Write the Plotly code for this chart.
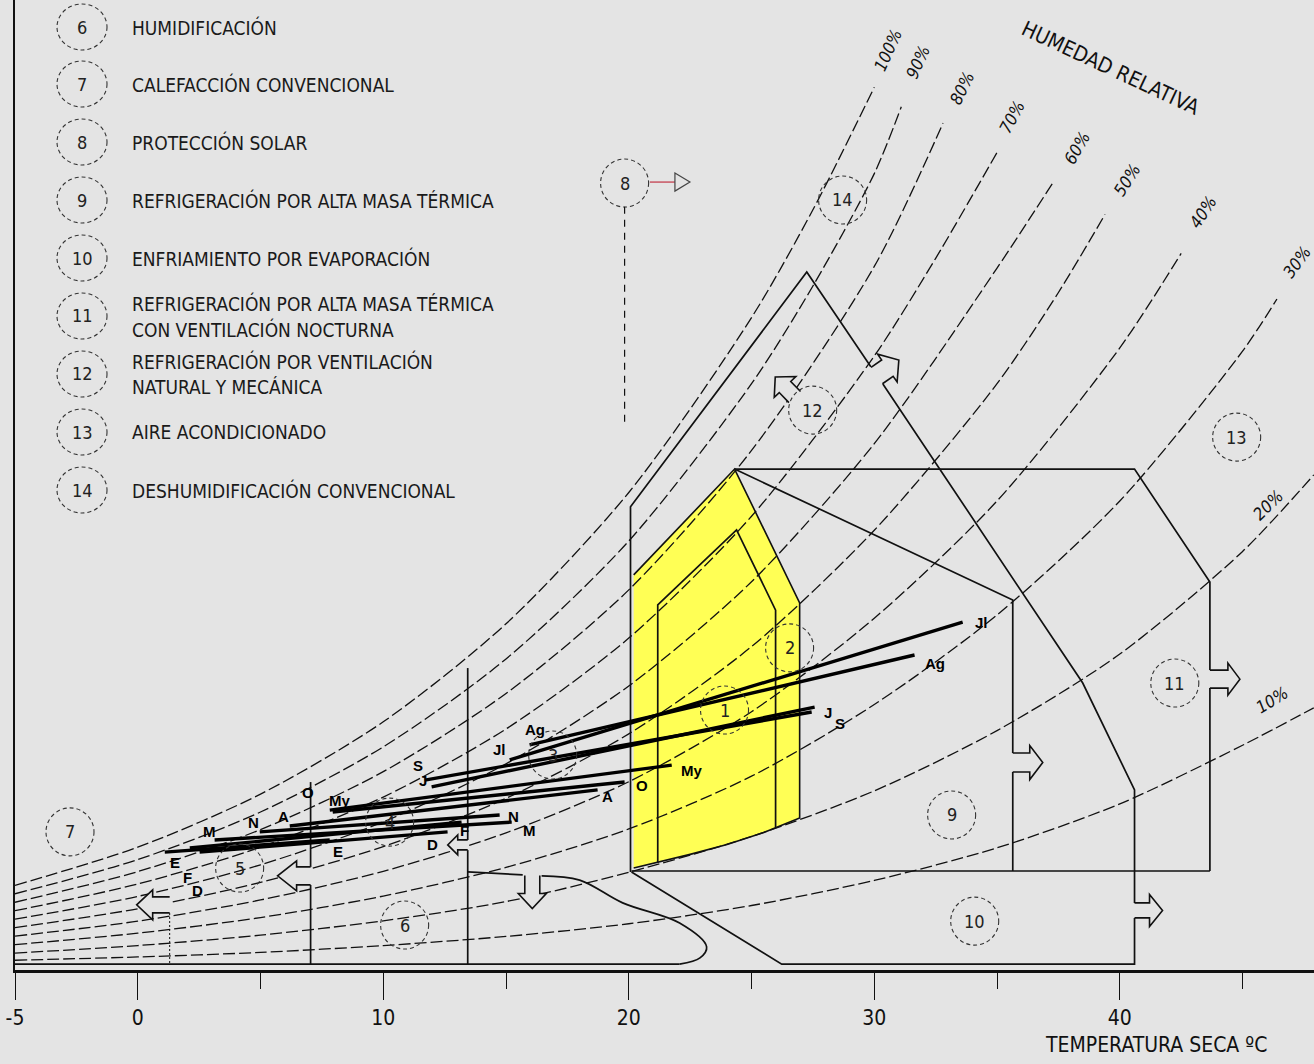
import math
import plotly.graph_objects as go

# ---------------------------------------------------------------------------
# Relative-humidity curves: dry-bulb temperature (°C) vs humidity ratio (g/kg)
# ---------------------------------------------------------------------------
rh100_t = [-5, 0, 5, 10, 15, 20, 25, 27.5, 30.0]
rh100_w = [2.60, 3.77, 5.40, 7.62, 10.63, 14.66, 20.03, 23.34, 27.10]
rh90_t = [-5, 0, 5, 10, 15, 20, 25, 27.5, 30, 31.1]
rh90_w = [2.34, 3.39, 4.85, 6.85, 9.55, 13.17, 18.00, 21.00, 24.45, 26.50]
rh80_t = [-5, 0, 5, 10, 15, 20, 25, 30, 32.8]
rh80_w = [2.08, 3.02, 4.31, 6.09, 8.49, 11.67, 15.95, 21.60, 26.00]
rh70_t = [-5, 0, 5, 10, 15, 20, 25, 30, 32.5, 35.0]
rh70_w = [1.82, 2.64, 3.77, 5.31, 7.40, 10.19, 13.93, 18.85, 21.85, 25.10]
rh60_t = [-5, 0, 5, 10, 15, 20, 25, 30, 35, 37.3]
rh60_w = [1.56, 2.26, 3.23, 4.55, 6.33, 8.72, 11.92, 16.16, 21.55, 24.20]
rh50_t = [-5, 0, 5, 10, 15, 20, 25, 30, 35, 37.5, 39.4]
rh50_w = [1.30, 1.88, 2.69, 3.79, 5.27, 7.25, 9.93, 13.50, 18.00, 20.80, 23.20]
rh40_t = [-5, 0, 5, 10, 15, 20, 25, 30, 35, 40, 42.5]
rh40_w = [1.04, 1.50, 2.15, 3.03, 4.21, 5.78, 7.93, 10.80, 14.40, 19.10, 22.00]
rh30_t = [-5, 0, 5, 10, 15, 20, 25, 30, 35, 40, 45, 46.4]
rh30_w = [0.78, 1.13, 1.61, 2.27, 3.15, 4.33, 5.95, 8.15, 10.90, 14.40, 19.00, 20.60]
rh20_t = [-5, 0, 5, 10, 15, 20, 25, 30, 35, 40, 45, 47.9]
rh20_w = [0.52, 0.75, 1.07, 1.51, 2.10, 3.00, 4.10, 5.50, 7.35, 9.70, 12.85, 15.20]
rh10_t = [-5, 0, 5, 10, 15, 20, 25, 30, 35, 40, 45, 47.9]
rh10_w = [0.30, 0.40, 0.54, 0.75, 1.03, 1.42, 1.98, 2.75, 3.75, 5.10, 6.90, 8.05]

rh_labels = ["100%", "90%", "80%", "70%", "60%", "50%", "40%", "30%", "20%", "10%"]

# ---------------------------------------------------------------------------
# Monthly climate lines (E..D): from min temperature to max temperature
# ---------------------------------------------------------------------------
months = ["E", "F", "M", "A", "My", "J", "Jl", "Ag", "S", "O", "N", "D"]
t_min = [1.10, 2.12, 3.13, 6.19, 7.82, 11.97, 15.15, 15.96, 11.69, 7.94, 4.97, 2.52]
t_max = [7.82, 13.19, 15.23, 18.73, 21.75, 27.57, 33.60, 31.64, 27.45, 19.83, 14.74, 12.62]
w_at_tmin = [3.62, 3.75, 3.99, 4.42, 4.91, 5.62, 6.45, 6.91, 5.83, 4.85, 4.24, 3.62]
w_at_tmax = [3.99, 4.54, 4.54, 5.53, 6.29, 8.07, 10.68, 9.67, 7.92, 5.77, 4.76, 4.24]

# ---------------------------------------------------------------------------
# Bioclimatic zones (°C, g/kg)
# ---------------------------------------------------------------------------
comfort_t = [20.2, 24.31, 26.96, 26.96, 25.5, 24.0, 22.5, 21.2, 20.2]
comfort_w = [12.13, 15.38, 11.27, 4.67, 4.22, 3.85, 3.55, 3.30, 3.13]
zone1_t = [21.18, 21.18, 24.39, 25.98, 25.98]
zone1_w = [3.29, 11.21, 13.51, 11.05, 4.39]

zone12_t = [20.07, 20.07, 27.25, 29.86]
zone12_w = [3.01, 14.22, 21.43, 18.52]
zone12b_t = [30.35, 38.49, 40.60, 40.60]
zone12b_w = [17.99, 8.81, 5.53, 2.06]
zone10_t = [40.60, 40.60, 26.23, 20.11]
zone10_w = [1.60, 0.18, 0.18, 3.01]
zone9_t = [24.31, 35.64, 35.64]
zone9_w = [15.38, 11.36, 6.66]
zone9b_t = [35.64, 35.64]
zone9b_w = [6.08, 3.04]
zone11_t = [24.31, 40.60, 43.67, 43.67]
zone11_w = [15.38, 15.38, 11.91, 9.21]
zone11b_t = [43.67, 43.67]
zone11b_w = [8.66, 3.04]
base_t = [20.11, 43.67]
base_w = [3.04, 3.04]

heat7_t = [7.04, 7.04]
heat7_w = [5.77, 3.16]
heat7b_t = [7.04, 7.04]
heat7b_w = [2.61, 0.18]
heat13_t = [13.44, 13.44]
heat13_w = [9.27, 3.99]
heat13b_t = [13.44, 13.44]
heat13b_w = [3.68, 0.18]

humid_top_t = [13.44, 15.68]
humid_top_w = [3.01, 2.92]
humid_curve_t = [16.45, 18.0, 19.75, 22.07, 23.17, 22.9, 22.07]
humid_curve_w = [2.89, 2.76, 2.06, 1.44, 0.71, 0.37, 0.18]
humid_base_t = [-5, 22.07]
humid_base_w = [0.18, 0.18]
solar_t = [1.30, 1.30]
solar_w = [1.75, 0.18]

# zone markers: number, temperature, humidity ratio
zone_ids = ["7", "5", "4", "6", "3", "1", "2", "9", "10", "11", "12", "13", "14", "8"]
zone_t = [-2.76, 4.15, 10.26, 10.87, 16.90, 23.90, 26.55, 33.15, 34.09, 42.24, 27.49, 44.76, 28.71, 19.83]
zone_w = [4.24, 3.13, 4.54, 1.38, 6.60, 7.98, 9.89, 4.76, 1.50, 8.81, 17.19, 16.36, 23.64, 24.16]

legend_ids = ["6", "7", "8", "9", "10", "11", "12", "13", "14"]
legend_lines = [
    ["HUMIDIFICACIÓN"],
    ["CALEFACCIÓN CONVENCIONAL"],
    ["PROTECCIÓN SOLAR"],
    ["REFRIGERACIÓN POR ALTA MASA TÉRMICA"],
    ["ENFRIAMIENTO POR EVAPORACIÓN"],
    ["REFRIGERACIÓN POR ALTA MASA TÉRMICA", "CON VENTILACIÓN NOCTURNA"],
    ["REFRIGERACIÓN POR VENTILACIÓN", "NATURAL Y MECÁNICA"],
    ["AIRE ACONDICIONADO"],
    ["DESHUMIDIFICACIÓN CONVENCIONAL"],
]

tick_vals = [-5, 0, 10, 20, 30, 40]
tick_text = ["-5", "0", "10", "20", "30", "40"]
minor_vals = [5, 15, 25, 35, 45]

# ---------------------------------------------------------------------------
# Layout constants
# ---------------------------------------------------------------------------
W, H = 1314, 1064
ML, MB = 15, 94
PW, PH = W - ML, H - MB
BG = "#e4e4e4"
YELLOW = "#ffff55"
INK = "#111111"
FONT = "DejaVu Sans Condensed, Liberation Sans Narrow, Arial Narrow, sans-serif"
BOLD = "Liberation Sans, Arial, sans-serif"


def paper_x(px):
    return (px - ML) / PW


def paper_y(py):
    return (PH - py) / PH


def arrow_path(theta, s, h, l1, l2):
    """Open outline of a block arrow (pixels, y up) pointing along theta."""
    pts = [(0, s), (l1, s), (l1, h), (l1 + l2, 0), (l1, -h), (l1, -s), (0, -s)]
    c, sn = math.cos(math.radians(theta)), math.sin(math.radians(theta))
    out = [(u * c - v * sn, u * sn + v * c) for u, v in pts]
    return "M " + " L ".join(f"{x:.1f},{y:.1f}" for x, y in out)


fig = go.Figure()

# comfort zone (yellow) drawn first so the grid of curves sits on top
fig.add_trace(go.Scatter(x=comfort_t, y=comfort_w, mode="lines", fill="toself",
                         fillcolor=YELLOW, line=dict(color=INK, width=1.6),
                         hoverinfo="skip", showlegend=False))

rh_series = [(rh100_t, rh100_w), (rh90_t, rh90_w), (rh80_t, rh80_w), (rh70_t, rh70_w),
             (rh60_t, rh60_w), (rh50_t, rh50_w), (rh40_t, rh40_w), (rh30_t, rh30_w),
             (rh20_t, rh20_w), (rh10_t, rh10_w)]
for tt, ww in rh_series:
    fig.add_trace(go.Scatter(x=tt, y=ww, mode="lines",
                             line=dict(color=INK, width=1.3, dash="12px,4px",
                                       shape="spline", smoothing=0.8),
                             hoverinfo="skip", showlegend=False))

solid = [(zone1_t, zone1_w), (zone12_t, zone12_w), (zone12b_t, zone12b_w),
         (zone10_t, zone10_w), (zone9_t, zone9_w), (zone9b_t, zone9b_w),
         (zone11_t, zone11_w), (zone11b_t, zone11b_w), (base_t, base_w),
         (heat7_t, heat7_w), (heat7b_t, heat7b_w), (heat13_t, heat13_w),
         (heat13b_t, heat13b_w), (humid_top_t, humid_top_w), (humid_base_t, humid_base_w)]
for tt, ww in solid:
    fig.add_trace(go.Scatter(x=tt, y=ww, mode="lines", line=dict(color=INK, width=1.7),
                             hoverinfo="skip", showlegend=False))

fig.add_trace(go.Scatter(x=humid_curve_t, y=humid_curve_w, mode="lines",
                         line=dict(color=INK, width=1.7, shape="spline", smoothing=1.0),
                         hoverinfo="skip", showlegend=False))
fig.add_trace(go.Scatter(x=solar_t, y=solar_w, mode="lines",
                         line=dict(color=INK, width=1, dash="2px,2px"),
                         hoverinfo="skip", showlegend=False))

# monthly lines
for i in range(len(months)):
    fig.add_trace(go.Scatter(x=[t_min[i], t_max[i]], y=[w_at_tmin[i], w_at_tmax[i]],
                             mode="lines", line=dict(color="#000000", width=3.4),
                             hoverinfo="skip", showlegend=False))

shapes = []
annotations = []

# block arrows showing the direction each strategy extends
arrow_specs = [
    # anchor T, anchor w, direction, shaft half, head half, shaft len, head len
    (35.64, 6.37, 0, 9.5, 17, 17, 13),
    (40.60, 1.83, 0, 7.5, 16, 15, 13),
    (43.67, 8.93, 0, 9, 16, 18, 12),
    (30.10, 18.25, 35, 10, 17, 13, 14),
    (26.76, 17.59, 134, 8, 15, 14, 14),
    (7.04, 2.89, 180, 9, 15, 14, 19),
    (13.44, 3.84, 180, 5, 10, 10, 10),
    (16.07, 2.90, -90, 7.5, 14, 18, 15),
    (1.30, 2.00, 180, 8, 15, 17, 16),
]
for at, aw, th, s, h, l1, l2 in arrow_specs:
    shapes.append(dict(type="path", xref="x", yref="y", xsizemode="pixel",
                       ysizemode="pixel", xanchor=at, yanchor=aw,
                       path=arrow_path(th, s, h, l1, l2), fillcolor=BG,
                       line=dict(color=INK, width=1.6), layer="above"))

# numbered zone markers
for zid, zt, zw in zip(zone_ids, zone_t, zone_w):
    shapes.append(dict(type="circle", xref="x", yref="y", xsizemode="pixel",
                       ysizemode="pixel", xanchor=zt, yanchor=zw,
                       x0=-24, x1=24, y0=-24, y1=24,
                       line=dict(color="#333333", width=1.1, dash="4px,3px")))
    annotations.append(dict(x=zt, y=zw, xref="x", yref="y", text=zid, showarrow=False,
                            xanchor="center", yanchor="middle",
                            font=dict(family=FONT, size=18, color="#222222")))

# solar protection marker: pointer to the right and dashed drop line
shapes.append(dict(type="line", xref="x", yref="y", x0=20.86, x1=21.88, y0=24.19, y1=24.19,
                   line=dict(color="#c85562", width=1.5)))
shapes.append(dict(type="path", xref="x", yref="y", xsizemode="pixel", ysizemode="pixel",
                   xanchor=21.88, yanchor=24.19, path="M 0,9 L 15,0 L 0,-9 Z",
                   fillcolor=BG, line=dict(color="#444444", width=1.2)))
shapes.append(dict(type="line", xref="x", yref="y", x0=19.83, x1=19.83, y0=23.43, y1=16.73,
                   line=dict(color=INK, width=1.2, dash="7px,6px")))

# legend block
legend_rows = [27, 84, 142, 200, 258, 316, 374, 432, 490]
for lid, lines, row in zip(legend_ids, legend_lines, legend_rows):
    shapes.append(dict(type="circle", xref="paper", yref="paper", xsizemode="pixel",
                       ysizemode="pixel", xanchor=paper_x(82), yanchor=paper_y(row),
                       x0=-25, x1=25, y0=-23, y1=23,
                       line=dict(color="#333333", width=1.1, dash="4px,3px")))
    annotations.append(dict(x=paper_x(82), y=paper_y(row), xref="paper", yref="paper",
                            text=lid, showarrow=False, xanchor="center", yanchor="middle",
                            font=dict(family=FONT, size=18, color="#222222")))
    if len(lines) == 1:
        offs = [0]
    else:
        offs = [-13, 13]
    for line_text, off in zip(lines, offs):
        annotations.append(dict(x=paper_x(130), y=paper_y(row + off), xref="paper",
                                yref="paper", text=line_text, showarrow=False,
                                xanchor="left", yanchor="middle",
                                font=dict(family=FONT, size=19, color="#1a1a1a")))

# relative-humidity labels
rh_label_pos = [(888, 50, -66), (918, 62, -66), (962, 88, -64), (1012, 117, -62),
                (1077, 148, -60), (1127, 180, -58), (1203, 212, -56), (1297, 262, -54),
                (1268, 505, -44), (1272, 700, -32)]
for lab, (px, py, ang) in zip(rh_labels, rh_label_pos):
    annotations.append(dict(x=paper_x(px), y=paper_y(py), xref="paper", yref="paper",
                            text=f"<i>{lab}</i>", showarrow=False, textangle=ang,
                            xanchor="center", yanchor="middle",
                            font=dict(family=FONT, size=17, color="#111111")))

annotations.append(dict(x=paper_x(1110), y=paper_y(68), xref="paper", yref="paper",
                        text="HUMEDAD RELATIVA", showarrow=False, textangle=25,
                        xanchor="center", yanchor="middle",
                        font=dict(family=FONT, size=21, color="#111111")))
annotations.append(dict(x=paper_x(1043), y=paper_y(1045), xref="paper", yref="paper",
                        text="TEMPERATURA SECA ºC", showarrow=False, xanchor="left",
                        yanchor="middle",
                        font=dict(family=FONT, size=21, color="#111111")))

# month labels at both ends of each line
left_off = [(10, -10), (-2, -30), (-5, 9), (-6, 10), (10, 10), (-9, 6),
            (-10, 10), (5, 15), (-7, 15), (-25, 20), (-6, 9), (-2, -38)]
right_off = [(8, -11), (3, -8), (18, -8), (10, -7), (20, -5), (13, -5),
             (19, 0), (20, -8), (28, -11), (17, -3), (14, -2), (-15, -13)]
for i, m in enumerate(months):
    annotations.append(dict(x=t_min[i], y=w_at_tmin[i], xref="x", yref="y",
                            text=f"<b>{m}</b>", showarrow=False,
                            xanchor="center", yanchor="middle",
                            xshift=left_off[i][0], yshift=left_off[i][1],
                            font=dict(family=BOLD, size=15, color="#000000")))
    annotations.append(dict(x=t_max[i], y=w_at_tmax[i], xref="x", yref="y",
                            text=f"<b>{m}</b>", showarrow=False,
                            xanchor="center", yanchor="middle",
                            xshift=right_off[i][0], yshift=right_off[i][1],
                            font=dict(family=BOLD, size=15, color="#000000")))

fig.update_layout(
    width=W, height=H,
    margin=dict(l=ML, r=0, t=0, b=MB, pad=0),
    paper_bgcolor=BG, plot_bgcolor=BG,
    showlegend=False,
    shapes=shapes, annotations=annotations,
    xaxis=dict(range=[-5, 47.91], showgrid=False, zeroline=False,
               showline=True, linecolor="#111111", linewidth=2.5,
               ticks="outside", ticklen=27, tickwidth=1.4, tickcolor="#111111",
               tickvals=tick_vals, ticktext=tick_text,
               tickfont=dict(family=FONT, size=21, color="#111111"),
               minor=dict(tickvals=minor_vals, ticks="outside", ticklen=16,
                          tickwidth=1.4, tickcolor="#111111", showgrid=False)),
    yaxis=dict(range=[0, 29.78], showgrid=False, zeroline=False,
               showline=True, linecolor="#111111", linewidth=1.6,
               ticks="", showticklabels=False),
)

fig.write_html("out.html", config={"displayModeBar": False})
